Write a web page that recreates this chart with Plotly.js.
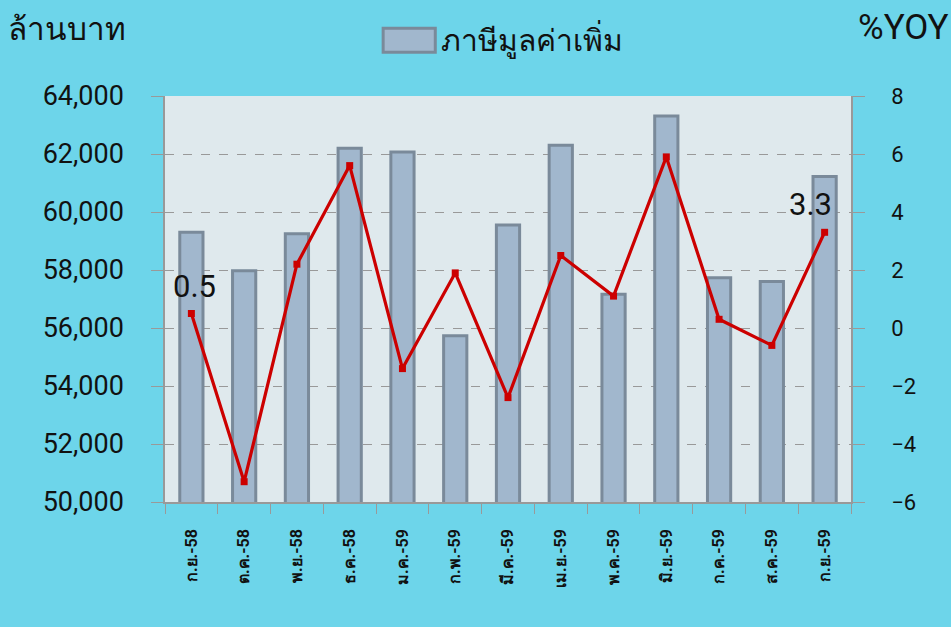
<!DOCTYPE html>
<html><head><meta charset="utf-8">
<script src="https://cdn.plot.ly/plotly-3.0.1.min.js"></script>
<style>html,body{margin:0;padding:0;background:#6dd5ea;}</style>
</head><body><div id="chart" style="width:951px;height:627px;"></div>
<script>
const months = ['ก.ย.-58','ต.ค.-58','พ.ย.-58','ธ.ค.-58','ม.ค.-59','ก.พ.-59','มี.ค.-59','เม.ย.-59','พ.ค.-59','มิ.ย.-59','ก.ค.-59','ส.ค.-59','ก.ย.-59'];
const vatValues = [59300,57970,59250,62200,62070,55730,59550,62300,57160,63310,57730,57600,61220];
const yoyValues = [0.5,-5.3,2.2,5.6,-1.4,1.9,-2.4,2.5,1.1,5.9,0.3,-0.6,3.3];
const seriesName = 'ภาษีมูลค่าเพิ่ม';
const leftTitle = 'ล้านบาท';
const rightTitle = '%YOY';

const bars = {
  type: 'bar', x: months, y: vatValues, name: seriesName, width: 0.44,
  marker: {color: '#a1b7cd', line: {color: '#7a8a9a', width: 3}},
  hoverinfo: 'x+y'
};
const line = {
  type: 'scatter', mode: 'lines+markers', x: months, y: yoyValues, yaxis: 'y2', name: '%YOY',
  line: {color: '#cc0000', width: 3.2}, marker: {color: '#cc0000', symbol: 'square', size: 7}
};
const last = months.length - 1;
const layout = {
  width: 951, height: 627,
  paper_bgcolor: '#6dd5ea', plot_bgcolor: '#dfe9ed',
  margin: {l: 165, r: 100, t: 96, b: 125},
  showlegend: false,
  font: {family: 'Roboto, "Liberation Sans", sans-serif', color: '#111'},
  xaxis: {
    type: 'category', range: [-0.5, months.length - 0.5], tickangle: -90, tickson: 'boundaries',
    ticks: 'outside', ticklen: 10, tickcolor: '#999', showline: true, linecolor: '#999', linewidth: 1.5,
    tickfont: {size: 16, color: '#111', weight: 'bold'}, ticklabelstandoff: 19, showgrid: false
  },
  yaxis: {
    range: [50000, 64000], dtick: 2000, tickformat: ',d', ticks: 'outside', ticklen: 12, tickcolor: '#999',
    showline: true, linecolor: '#999', linewidth: 1.5, gridcolor: '#999', griddash: 'dash', gridwidth: 1,
    tickfont: {size: 27, color: '#111'}, zeroline: false, ticklabelstandoff: 22
  },
  yaxis2: {
    range: [-6, 8], dtick: 2, overlaying: 'y', side: 'right', anchor: 'x', ticks: 'outside', ticklen: 12, tickcolor: '#999',
    showline: true, linecolor: '#999', linewidth: 1.5, showgrid: false, zeroline: false, tickangle: 0,
    tickfont: {size: 22, color: '#111'}, ticklabelstandoff: 22
  },
  shapes: [{type: 'rect', xref: 'paper', yref: 'paper', x0: 0.318, x1: 0.394, y0: 1.108, y1: 1.167,
            fillcolor: '#a1b7cd', line: {color: '#7a8a9a', width: 3}}],
  annotations: [
    {xref: 'paper', yref: 'paper', x: 0.4, y: 1.138, xanchor: 'left', yanchor: 'middle', showarrow: false,
     text: seriesName, font: {size: 30, color: '#111'}},
    {xref: 'paper', yref: 'paper', x: -0.232, y: 1.163, xanchor: 'left', yanchor: 'middle', showarrow: false,
     text: leftTitle, font: {size: 31.5, color: '#111'}},
    {xref: 'paper', yref: 'paper', x: 1.146, y: 1.168, xanchor: 'right', yanchor: 'middle', showarrow: false,
     text: rightTitle, font: {size: 35, color: '#111'}},
    {x: months[0], y: yoyValues[0], xref: 'x', yref: 'y2', showarrow: false, yshift: 27, xshift: 3,
     text: yoyValues[0].toFixed(1), font: {size: 31, color: '#111'}},
    {x: months[last], y: yoyValues[last], xref: 'x', yref: 'y2', showarrow: false, yshift: 28, xshift: -14,
     text: yoyValues[last].toFixed(1), font: {size: 31, color: '#111'}}
  ]
};
Plotly.newPlot('chart', [bars, line], layout, {displayModeBar: false});
</script></body></html>
